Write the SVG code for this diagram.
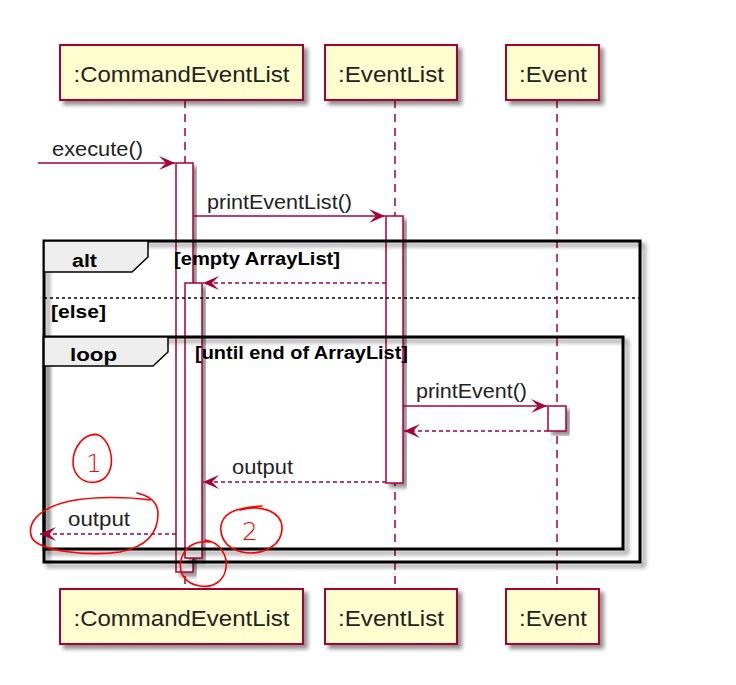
<svg xmlns="http://www.w3.org/2000/svg" width="736" height="685" viewBox="0 0 736 685">
<defs>
<style>
.part{fill:#FEFECE;stroke:#A80036;stroke-width:2}
.ptxt{font-family:"Liberation Sans",Arial,sans-serif;font-size:22px;fill:#222;text-anchor:middle}
.life{stroke:#A80036;stroke-width:1.5;stroke-dasharray:8,6;fill:none}
.act{fill:#FFFFFF;stroke:#A80036;stroke-width:1.5}
.msg{stroke:#A80036;stroke-width:1.5;fill:none;marker-end:url(#ah)}
.ret{stroke:#A80036;stroke-width:1.5;fill:none;stroke-dasharray:4,3;marker-end:url(#ah)}
.mtxt{font-family:"Liberation Sans",Arial,sans-serif;font-size:20px;fill:#222}
.frame{fill:none;stroke:#000;stroke-width:3}
.tab{fill:#EEEEEE;stroke:#000;stroke-width:1.5}
.ftxt{font-family:"Liberation Sans",Arial,sans-serif;font-size:18px;font-weight:bold;fill:#000}
.sep{stroke:#000;stroke-width:1.5;stroke-dasharray:3,3}
.red{fill:none;stroke:#FF0000;stroke-width:1.6;stroke-linecap:round;stroke-linejoin:round}
.rtxt{font-family:"DejaVu Sans",sans-serif;font-size:25px;font-weight:200;fill:#FF0000}
</style>
<filter id="sh" x="-10%" y="-10%" width="130%" height="130%">
<feGaussianBlur in="SourceAlpha" stdDeviation="2"/>
<feOffset dx="4" dy="4" result="b"/>
<feComponentTransfer><feFuncA type="linear" slope="0.45"/></feComponentTransfer>
<feMerge><feMergeNode/><feMergeNode in="SourceGraphic"/></feMerge>
</filter>
<marker id="ah" viewBox="0 0 17 14" refX="16" refY="7" markerWidth="17" markerHeight="14" markerUnits="userSpaceOnUse" orient="auto">
<path d="M16,7 L0,0 L7,7 L0,14 Z" fill="#A80036"/>
</marker>
</defs>
<rect width="736" height="685" fill="#FFFFFF"/>

<g id="lifelines">
<line class="life" x1="185" y1="100" x2="185" y2="589"/>
<line class="life" x1="395" y1="100" x2="395" y2="589"/>
<line class="life" x1="557" y1="100" x2="557" y2="589"/>
</g>

<g id="p-commandeventlist">
<rect class="part" filter="url(#sh)" x="60" y="45" width="243" height="55"/>
<text class="ptxt" x="181.5" y="82" textLength="216" lengthAdjust="spacingAndGlyphs">:CommandEventList</text>
<rect class="part" filter="url(#sh)" x="60" y="589" width="243" height="55"/>
<text class="ptxt" x="181.5" y="626" textLength="216" lengthAdjust="spacingAndGlyphs">:CommandEventList</text>
</g>
<g id="p-eventlist">
<rect class="part" filter="url(#sh)" x="325" y="45" width="132" height="55"/>
<text class="ptxt" x="391" y="82" textLength="106" lengthAdjust="spacingAndGlyphs">:EventList</text>
<rect class="part" filter="url(#sh)" x="325" y="589" width="132" height="55"/>
<text class="ptxt" x="391" y="626" textLength="106" lengthAdjust="spacingAndGlyphs">:EventList</text>
</g>
<g id="p-event">
<rect class="part" filter="url(#sh)" x="506" y="45" width="93" height="55"/>
<text class="ptxt" x="553" y="82" textLength="68" lengthAdjust="spacingAndGlyphs">:Event</text>
<rect class="part" filter="url(#sh)" x="506" y="589" width="93" height="55"/>
<text class="ptxt" x="553" y="626" textLength="68" lengthAdjust="spacingAndGlyphs">:Event</text>
</g>

<g id="activations">
<rect class="act" filter="url(#sh)" x="176" y="163" width="17" height="409"/>
<rect class="act" filter="url(#sh)" x="185" y="283" width="17" height="275"/>
<rect class="act" filter="url(#sh)" x="386" y="216" width="17" height="267"/>
<rect class="act" filter="url(#sh)" x="548" y="406" width="18" height="25"/>
</g>

<g id="frames">
<rect class="frame" filter="url(#sh)" x="44" y="241" width="596" height="321"/>
<path class="tab" d="M44,241 L148,241 L148,257 L132,272 L44,272 Z"/>
<text class="ftxt" x="72" y="267" textLength="25" lengthAdjust="spacingAndGlyphs">alt</text>
<text class="ftxt" x="174" y="265" textLength="166" lengthAdjust="spacingAndGlyphs">[empty ArrayList]</text>
<line class="sep" x1="44" y1="298" x2="640" y2="298"/>
<text class="ftxt" x="51" y="318" textLength="55" lengthAdjust="spacingAndGlyphs">[else]</text>
<rect class="frame" filter="url(#sh)" x="44" y="337" width="579" height="212"/>
<path class="tab" d="M44,337 L168,337 L168,352 L153,366 L44,366 Z"/>
<text class="ftxt" x="70" y="361" textLength="47" lengthAdjust="spacingAndGlyphs">loop</text>
<text class="ftxt" x="195" y="359" textLength="213" lengthAdjust="spacingAndGlyphs">[until end of ArrayList]</text>
</g>

<g id="connectors">
<line class="msg" x1="38" y1="163" x2="175" y2="163"/>
<text class="mtxt" x="52" y="156" textLength="91" lengthAdjust="spacingAndGlyphs">execute()</text>
<line class="msg" x1="193" y1="216" x2="385" y2="216"/>
<text class="mtxt" x="207" y="209" textLength="145" lengthAdjust="spacingAndGlyphs">printEventList()</text>
<line class="ret" x1="386" y1="283" x2="203" y2="283"/>
<line class="msg" x1="403" y1="406" x2="547" y2="406"/>
<text class="mtxt" x="416" y="398" textLength="111" lengthAdjust="spacingAndGlyphs">printEvent()</text>
<line class="ret" x1="548" y1="431" x2="404" y2="431"/>
<line class="ret" x1="386" y1="482" x2="203" y2="482"/>
<text class="mtxt" x="232" y="474" textLength="61" lengthAdjust="spacingAndGlyphs">output</text>
<line class="ret" x1="176" y1="534" x2="40" y2="534"/>
<text class="mtxt" x="68" y="526" textLength="62" lengthAdjust="spacingAndGlyphs">output</text>
</g>

<g id="annotations">
<path class="red" d="M98,435 C84,432 73,448 73,462 C73,476 84,484 96,482 C108,480 113,468 111,455 C109,443 102,434 94,434"/>
<text class="rtxt" x="86" y="472">1</text>
<path class="red" d="M137,493 C150,496 158,502 158,514 C158,530 150,546 120,552 C90,556 40,552 32,538 C26,524 38,508 70,501 C95,496 130,497 150,500"/>
<path class="red" d="M240,510 C262,504 282,512 282,528 C282,546 262,556 242,552 C224,548 218,534 222,522 C226,512 236,508 262,506"/>
<text class="rtxt" x="242" y="540">2</text>
<path class="red" d="M205,540 C220,542 228,556 226,568 C224,582 212,588 200,586 C186,584 178,574 181,560 C184,548 194,540 210,542"/>
</g>
</svg>
